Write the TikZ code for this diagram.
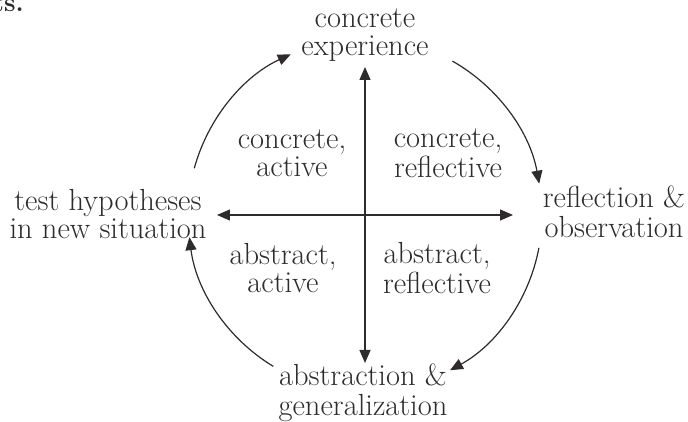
\documentclass[tikz,border=0pt]{standalone}
\usepackage{fontspec}
\usetikzlibrary{arrows.meta}
\definecolor{ink}{HTML}{2E2B2C}
\begin{document}
\begin{tikzpicture}[x=1pt,y=1pt,
  lbl/.style={align=center,inner sep=0pt,text=ink,font=\fontsize{30.5}{24.5}\selectfont},
  conn/.style={draw=ink,line width=1.2pt,-{Triangle[length=13pt,width=11pt]}},
  both/.style={draw=ink,line width=1.2pt,{Triangle[length=13pt,width=11pt]}-{Triangle[length=13pt,width=11pt]}}]
\useasboundingbox (-365,-207) rectangle (323,215);
\coordinate (C) at (0,0);
% fragment of page text
\node[anchor=base east,inner sep=0pt,text=ink,font=\bfseries\fontsize{26}{26}\selectfont] (frag) at (-341,203) {ts.};
% labels
\node[lbl] (CE) at (0,179.5) {\strut concrete\\\strut experience};
\node[lbl] (CA) at (-73,58.5) {\strut concrete,\\\strut active};
\node[lbl] (CR) at (83,58.5) {\strut concrete,\\\strut reflective};
\node[lbl] (TH) at (-257,-2.5) {\strut test hypotheses\\\strut in new situation};
\node[lbl] (RO) at (249,-0.5) {\strut reflection \&\\\strut observation};
\node[lbl] (AA) at (-82,-56.5) {\strut abstract,\\\strut active};
\node[lbl] (AR) at (72,-56.5) {\strut abstract,\\\strut reflective};
\node[lbl] (AG) at (-2,-178.5) {\strut abstraction \&\\\strut generalization};
% cross
\coordinate (vt) at (0,148);
\coordinate (vb) at (0,-148);
\coordinate (hl) at (-148,0);
\coordinate (hr) at (148,0);
\draw[both] (vb) -- (vt);
\draw[both] (hl) -- (hr);
% cycle arcs
\draw[conn] ([shift={(C)}]60.4:177) arc (60.4:10.2:177);
\draw[conn] ([shift={(C)}]-10.7:177) arc (-10.7:-61.3:177);
\draw[conn] ([shift={(C)}]-121.2:177) arc (-121.2:-172.8:177);
\draw[conn] ([shift={(C)}]164.7:177) arc (164.7:114.8:177);
\end{tikzpicture}
\end{document}
